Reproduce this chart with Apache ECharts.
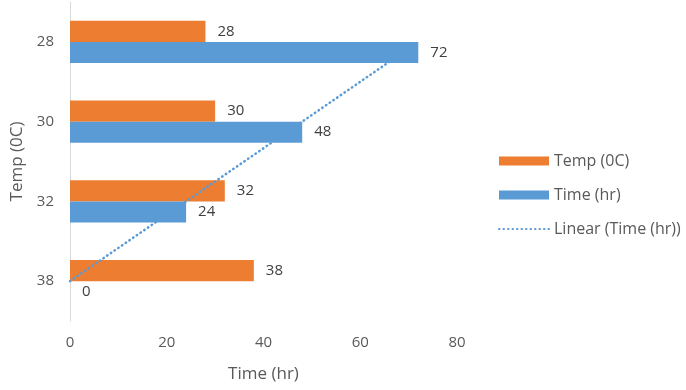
<!DOCTYPE html>
<html>
<head>
<meta charset="utf-8">
<script src="https://cdn.jsdelivr.net/npm/echarts@6/dist/echarts.min.js"></script>
<style>html,body{margin:0;padding:0;background:#fff}#c{width:686px;height:390px}</style>
</head>
<body>
<div id="c"></div>
<script>
// Data (categories listed bottom to top)
const categories = ['38', '32', '30', '28'];
const tempValues = [38, 32, 30, 28];
const timeValues = [0, 24, 48, 72];
const xTicks = [0, 20, 40, 60, 80];
const trendStart = 0;      // category position where trendline starts
const trendEnd = 2.76;     // category position where trendline ends (as drawn in source)

// linear regression of Time over category index
const n = timeValues.length;
const xs = timeValues.map((_, i) => i);
const mx = xs.reduce((a, b) => a + b, 0) / n;
const my = timeValues.reduce((a, b) => a + b, 0) / n;
let sxy = 0, sxx = 0;
xs.forEach((x, i) => { sxy += (x - mx) * (timeValues[i] - my); sxx += (x - mx) * (x - mx); });
const slope = sxy / sxx, intercept = my - slope * mx;
const trendData = [trendStart, trendEnd].map(p => [intercept + slope * p, p]);

const font = '"Open Sans", "Liberation Sans", sans-serif';
const chart = echarts.init(document.getElementById('c'), null, {renderer: 'canvas'});
chart.setOption({
  animation: false,
  textStyle: {fontFamily: font},
  grid: {left: 70, top: 2, width: 387, height: 319, containLabel: false},
  legend: {
    orient: 'vertical', left: 493, top: 148,
    itemWidth: 50, itemHeight: 9, itemGap: 18,
    textStyle: {fontFamily: font, fontSize: 16, color: '#595959'},
    data: [
      {name: 'Temp (0C)', icon: 'rect'},
      {name: 'Time (hr)', icon: 'rect'},
      {name: 'Linear (Time (hr))', itemStyle: {opacity: 0}}
    ]
  },
  xAxis: {
    type: 'value', min: xTicks[0], max: xTicks[xTicks.length - 1], interval: 20,
    axisLine: {show: false}, axisTick: {show: false}, splitLine: {show: false},
    axisLabel: {color: '#595959', fontSize: 15, margin: 14, fontFamily: font},
    name: 'Time (hr)', nameLocation: 'middle', nameGap: 45,
    nameTextStyle: {color: '#595959', fontSize: 17, fontFamily: font}
  },
  yAxis: [{
    type: 'category', data: categories,
    axisLine: {show: true, lineStyle: {color: '#d9d9d9', width: 1}},
    axisTick: {show: false},
    axisLabel: {color: '#595959', fontSize: 15, margin: 16, fontFamily: font},
    name: 'Temp (0C)', nameLocation: 'middle', nameRotate: 90, nameGap: 43,
    nameTextStyle: {color: '#595959', fontSize: 17, fontFamily: font}
  }, {
    type: 'value', min: -0.5, max: 3.5, show: false
  }],
  series: [
    {
      name: 'Temp (0C)', type: 'bar', data: tempValues,
      barGap: '0%', barCategoryGap: '47%',
      itemStyle: {color: '#ed7d31'},
      label: {show: true, position: 'right', distance: 12, color: '#404040', fontSize: 15, fontFamily: font}
    },
    {
      name: 'Time (hr)', type: 'bar', data: timeValues,
      barGap: '0%', barCategoryGap: '47%',
      itemStyle: {color: '#5b9bd5'},
      label: {show: true, position: 'right', distance: 12, color: '#404040', fontSize: 15, fontFamily: font}
    },
    {
      name: 'Linear (Time (hr))', type: 'line', yAxisIndex: 1, data: trendData,
      symbol: 'none', silent: true,
      itemStyle: {color: '#5b9bd5'},
      lineStyle: {color: '#5b9bd5', width: 2.5, type: [0.5, 4], cap: 'round'},
      z: 5
    }
  ]
});
</script>
</body>
</html>
